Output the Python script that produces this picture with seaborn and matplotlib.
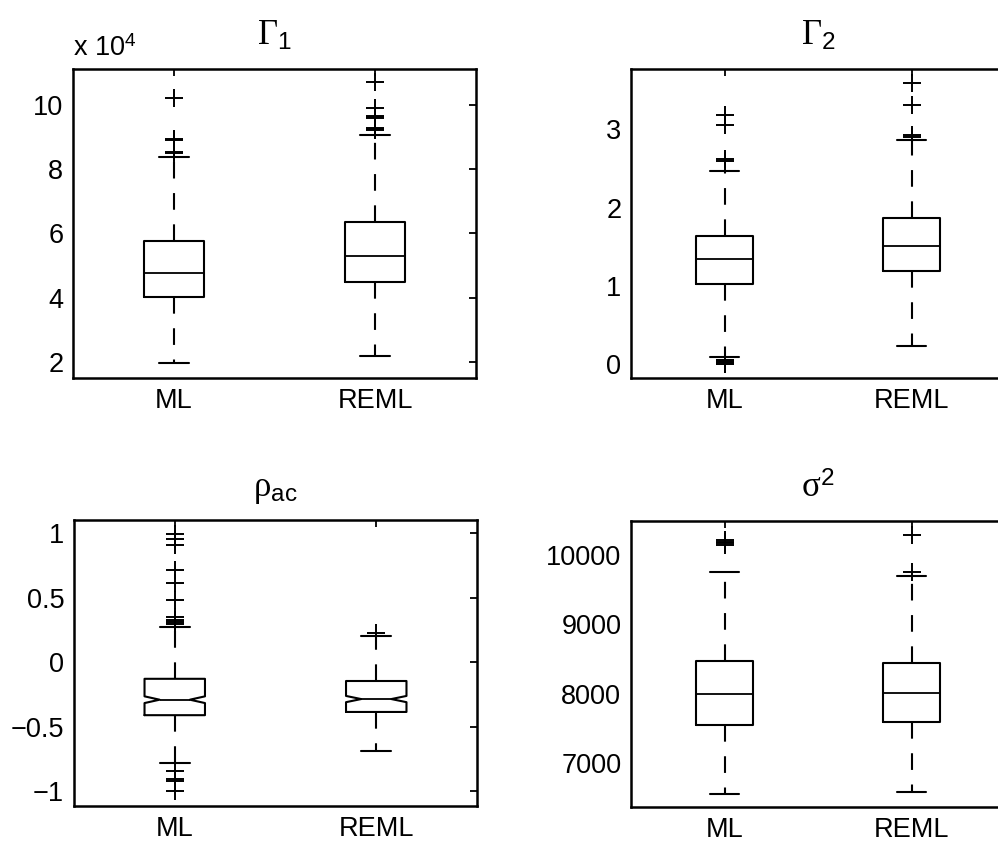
import matplotlib
matplotlib.use("Agg")
import matplotlib.pyplot as plt
import numpy as np
import pandas as pd
import seaborn as sns

# ---------------- data ----------------
methods = ["ML", "REML"]

# Gamma_1 (units of 10^4)
g1_q1 = [4.02, 4.48]
g1_med = [4.78, 5.30]
g1_q3 = [5.77, 6.35]
g1_wlo = [1.96, 2.19]
g1_whi = [8.38, 9.06]
g1_out = [[8.52, 8.55, 8.90, 8.94, 10.22],
          [9.22, 9.26, 9.29, 9.58, 9.62, 9.66, 9.90, 10.70]]

# Gamma_2
g2_q1 = [1.02, 1.19]
g2_med = [1.35, 1.51]
g2_q3 = [1.64, 1.865]
g2_wlo = [0.095, 0.234]
g2_whi = [2.47, 2.86]
g2_out = [[0.0, 0.01, 0.02, 0.03, 0.04, 0.05, 0.06, 2.60, 2.62, 3.06, 3.18],
          [2.90, 2.93, 3.31, 3.59]]

# rho_ac
rho_q1 = [-0.41, -0.385]
rho_med = [-0.29, -0.285]
rho_q3 = [-0.128, -0.145]
rho_wlo = [-0.78, -0.685]
rho_whi = [0.27, 0.204]
rho_out = [[-1.0, -0.92, -0.905, -0.845, 0.30, 0.315, 0.33, 0.35, 0.483,
            0.612, 0.716, 0.91, 0.955, 0.995],
           [0.228]]

# sigma^2
s2_q1 = [7552, 7595]
s2_med = [7998, 8010]
s2_q3 = [8478, 8450]
s2_wlo = [6562, 6586]
s2_whi = [9760, 9695]
s2_out = [[10150, 10170, 10190, 10210],
          [9750, 10288]]

# sample sizes (set the notch widths)
n_obs = [290, 245]

g1_ticks = [2, 4, 6, 8, 10]
g2_ticks = [0, 1, 2, 3]
rho_ticks = [-1, -0.5, 0, 0.5, 1]
rho_ticklabels = ["\u22121", "\u22120.5", "0", "0.5", "1"]
s2_ticks = [7000, 8000, 9000, 10000]

titles = [r"$\Gamma_{\mathsf{1}}$", r"$\Gamma_{\mathsf{2}}$",
          r"$\mathrm{\rho}_{\mathsf{ac}}$", r"$\mathrm{\sigma}^{\mathsf{2}}$"]


def build_frame(q1, med, q3, wlo, whi, outs, n):
    rows = []
    for i, m in enumerate(methods):
        o = outs[i]
        lo = [v for v in o if v < q1[i]]
        hi = [v for v in o if v > q3[i]]
        k = (n[i] - len(o) - 2) // 3
        vals = lo + [wlo[i]] + [q1[i]] * k + [med[i]] * k + [q3[i]] * k + [whi[i]] + hi
        rows += [(m, v) for v in vals]
    return pd.DataFrame(rows, columns=["method", "value"])


sns.set_theme(style="white")
plt.rcParams["font.family"] = ["Liberation Sans", "DejaVu Sans"]
plt.rcParams["mathtext.fontset"] = "custom"
plt.rcParams["mathtext.rm"] = "Liberation Serif"
plt.rcParams["mathtext.it"] = "Liberation Serif:italic"
plt.rcParams["mathtext.sf"] = "Liberation Sans"

W, H = 998, 851
fig = plt.figure(figsize=(W / 100, H / 100), dpi=100)


def axes_px(left, right, top, bottom):
    return fig.add_axes([left / W, 1 - bottom / H, (right - left) / W, (bottom - top) / H])


panels = [
    (axes_px(73, 476, 69, 378), build_frame(g1_q1, g1_med, g1_q3, g1_wlo, g1_whi, g1_out, n_obs),
     (1.5, 11.12), g1_ticks, [str(t) for t in g1_ticks], False),
    (axes_px(631, 1005, 69, 378), build_frame(g2_q1, g2_med, g2_q3, g2_wlo, g2_whi, g2_out, n_obs),
     (-0.175, 3.77), g2_ticks, [str(t) for t in g2_ticks], False),
    (axes_px(74, 477, 520, 806), build_frame(rho_q1, rho_med, rho_q3, rho_wlo, rho_whi, rho_out, n_obs),
     (-1.114, 1.103), rho_ticks, rho_ticklabels, True),
    (axes_px(631, 1005, 521, 807), build_frame(s2_q1, s2_med, s2_q3, s2_wlo, s2_whi, s2_out, n_obs),
     (6370, 10490), s2_ticks, [str(t) for t in s2_ticks], False),
]

LW = 1.5
for (ax, df, ylim, ticks, labels, notch), title in zip(panels, titles):
    sns.boxplot(data=df, x="method", y="value", order=methods, ax=ax,
                width=0.3, fill=False, color="black", linecolor="black",
                linewidth=LW, whis=1.5, notch=notch,
                flierprops=dict(marker="+", markeredgecolor="black",
                                markersize=13, markeredgewidth=1.4),
                whiskerprops=dict(linestyle=(0, (8, 7)), linewidth=LW, color="black"),
                capprops=dict(linewidth=LW, color="black"),
                medianprops=dict(linewidth=1.3, color="black"),
                boxprops=dict(linewidth=LW, color="black"))
    ax.set_xlim(-0.5, 1.5)
    ax.set_ylim(*ylim)
    ax.set_yticks(ticks, labels)
    ax.set_xlabel("")
    ax.set_ylabel("")
    ax.tick_params(axis="both", direction="in", length=5, width=1.3,
                   top=True, right=True, labelsize=19.5, colors="black")
    ax.tick_params(axis="y", pad=7)
    ax.tick_params(axis="x", pad=7)
    for sp in ax.spines.values():
        sp.set_linewidth(1.8)
        sp.set_color("black")
    ax.set_title(title, fontsize=25, pad=17, color="black")

fig.text(73 / W, 1 - 56 / H, r"x 10$^{\mathsf{4}}$", fontsize=19.5,
         va="baseline", ha="left", color="black")

fig.savefig("out.png", dpi=100)
